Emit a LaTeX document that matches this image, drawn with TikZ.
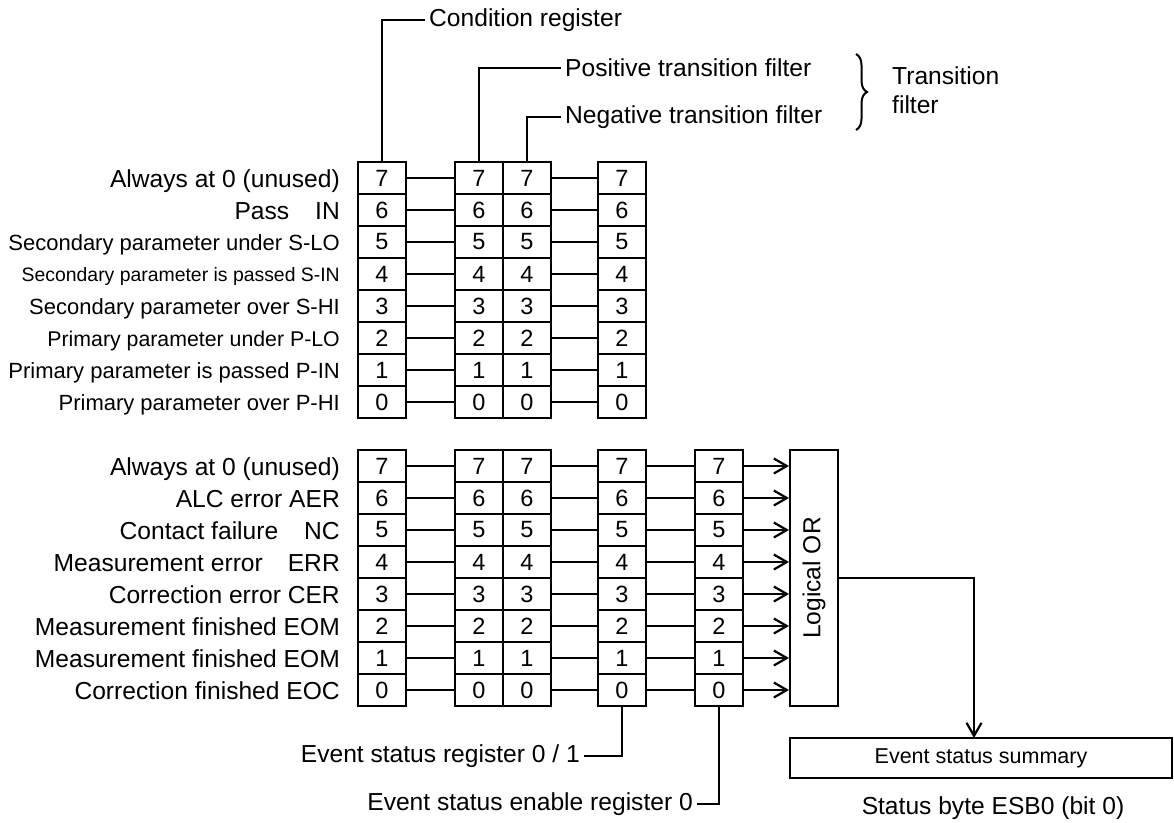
\documentclass[tikz,border=0pt]{standalone}
\usepackage{fontspec}
\setmainfont{Liberation Sans}
\usetikzlibrary{arrows.meta,decorations.pathreplacing}
\newcommand{\bigf}{\fontsize{24.6}{29}\selectfont}
\newcommand{\midf}{\fontsize{22}{26}\selectfont}
\begin{document}
\begin{tikzpicture}[x=1pt,y=-1pt,
  every node/.style={font=\bigf},
  cell/.style={draw,line width=2pt,minimum width=48pt,minimum height=32pt,inner sep=0pt,font=\fontsize{23.5}{27}\selectfont},
  wire/.style={line width=2pt},
  arr/.style={line width=2.2pt,-{Straight Barb[length=13pt,width=15pt,line width=2.2pt]}},
  lbl/.style={inner sep=0pt,anchor=base east},
  txt/.style={inner sep=4pt}]
\useasboundingbox (0,0) rectangle (1174,822);
% top group
\foreach \r in {0,...,7}{
  \pgfmathsetmacro{\yy}{178+32*(7-\r)}
  \node[cell] (ta\r) at (382,\yy) {\r};
  \node[cell] (tb\r) at (479,\yy) {\r};
  \node[cell] (tc\r) at (527,\yy) {\r};
  \node[cell] (td\r) at (622,\yy) {\r};
  \draw[wire] (ta\r.east) -- (tb\r.west);
  \draw[wire] (tc\r.east) -- (td\r.west);
}
% bottom group
\foreach \r in {0,...,7}{
  \pgfmathsetmacro{\yy}{466+32*(7-\r)}
  \node[cell] (ba\r) at (382,\yy) {\r};
  \node[cell] (bb\r) at (479,\yy) {\r};
  \node[cell] (bc\r) at (527,\yy) {\r};
  \node[cell] (bd\r) at (622,\yy) {\r};
  \node[cell] (be\r) at (719,\yy) {\r};
  \draw[wire] (ba\r.east) -- (bb\r.west);
  \draw[wire] (bc\r.east) -- (bd\r.west);
  \draw[wire] (bd\r.east) -- (be\r.west);
}
% left labels top
\node[lbl] (l1) at (340,187) {Always at 0 (unused)};
\node[lbl] (l2) at (340,219) {Pass\hspace{26pt}IN};
\node[lbl,font=\midf] (l3) at (340,250) {Secondary parameter under S-LO};
\node[lbl,font=\fontsize{19.4}{23}\selectfont] (l4) at (340,281) {Secondary parameter is passed S-IN};
\node[lbl,font=\midf] (l5) at (340,314) {Secondary parameter over S-HI};
\node[lbl,font=\fontsize{21.3}{25}\selectfont] (l6) at (340,346) {Primary parameter under P-LO};
\node[lbl,font=\midf] (l7) at (340,378) {Primary parameter is passed P-IN};
\node[lbl,font=\midf] (l8) at (340,410) {Primary parameter over P-HI};
% left labels bottom
\node[lbl] (m1) at (340,475) {Always at 0 (unused)};
\node[lbl] (m2) at (340,507) {ALC error AER};
\node[lbl] (m3) at (340,539) {Contact failure\hspace{26pt}NC};
\node[lbl] (m4) at (340,571) {Measurement error\hspace{25pt}ERR};
\node[lbl] (m5) at (340,603) {Correction error CER};
\node[lbl] (m6) at (340,635) {Measurement finished EOM};
\node[lbl] (m7) at (340,667) {Measurement finished EOM};
\node[lbl] (m8) at (340,699) {Correction finished EOC};
% top captions
\node[txt,anchor=west] (cr) at (425,20) {Condition register};
\node[txt,anchor=west] (pt) at (561,68) {Positive transition filter};
\node[txt,anchor=west] (nt) at (561,117) {Negative transition filter};
\draw[wire] (ta7.north) |- (cr.west);
\draw[wire] (tb7.north) |- (pt.west);
\draw[wire] (tc7.north) |- (nt.west);
\draw[line width=2pt,decorate,decoration={brace,amplitude=11pt}] (856,54) -- (856,130);
\node[inner sep=0pt,anchor=west,align=left] (tf) at (892,90) {Transition\\filter};
% logical OR
\node[draw,line width=2pt,minimum width=48pt,minimum height=256pt,inner sep=0pt] (or) at (814,578) {};
\node[rotate=90,inner sep=0pt] (ortxt) at (or.center) {Logical OR};
\foreach \r in {0,...,7}{
  \draw[arr] (be\r.east) -- (be\r.east -| or.west);
}
% summary
\node[draw,line width=2pt,minimum width=382pt,minimum height=40pt,inner sep=0pt,font=\fontsize{21.5}{25}\selectfont] (sum) at (981,758) {Event status summary};
\node[inner sep=0pt] (sb) at (993,808) {Status byte ESB0 (bit 0)};
\coordinate (drop) at (974,738);
\draw[arr] (or.east) -| (drop);
% bottom captions
\node[txt,anchor=east] (esr) at (584,756) {Event status register 0 / 1};
\node[txt,anchor=east] (eser) at (697,804) {Event status enable register 0};
\draw[wire] (bd0.south) |- (esr.east);
\draw[wire] (be0.south) |- (eser.east);
\end{tikzpicture}
\end{document}
